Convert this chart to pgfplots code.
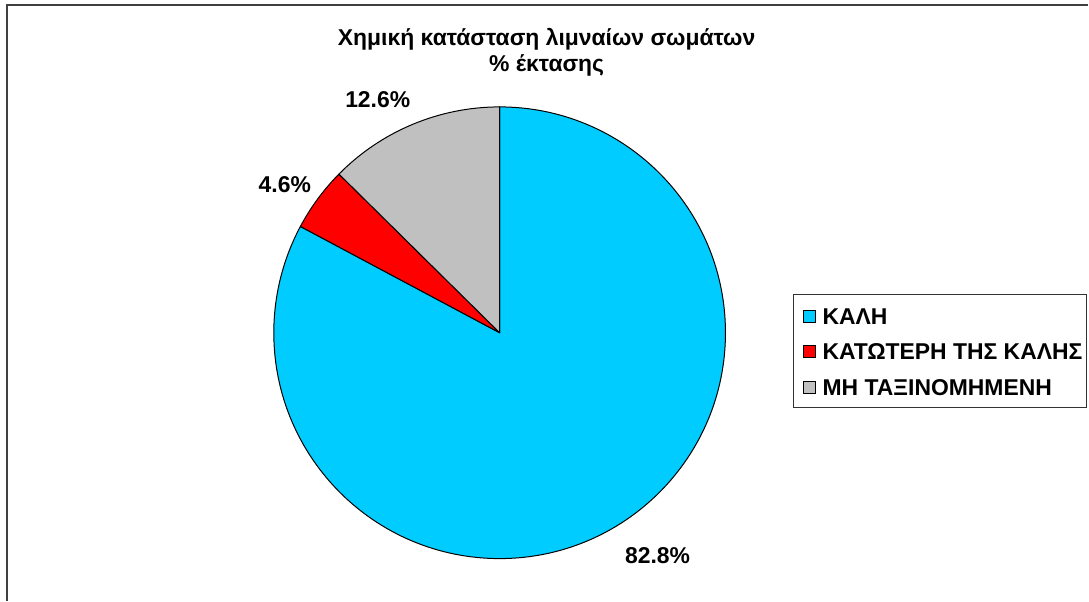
\documentclass[border=0pt]{standalone}
\usepackage{pgfplots}
\usepackage{pgfplotstable}
\pgfplotsset{compat=1.18}
\usepackage{fontspec}
\setmainfont{Liberation Sans}
\definecolor{cblue}{HTML}{00CCFF}
\definecolor{cred}{HTML}{FF0000}
\definecolor{cgrey}{HTML}{C0C0C0}
\pgfplotstableread{
value color
82.8 cblue
4.6 cred
12.6 cgrey
}\piedata
\begin{document}
\begin{tikzpicture}
\begin{axis}[scale only axis, x=1bp, y=1bp, xmin=0, xmax=1089, ymin=0, ymax=601,
  hide axis, clip=false]
\path (axis cs:0,0) rectangle (axis cs:1089,601);
\draw[black!75, line width=1.6bp] (axis cs:7,0) -- (axis cs:7,596) -- (axis cs:1089,596);
% pie slices from the data
\def\acc{90}
\pgfplotsforeachungrouped \i in {0,1,2} {%
  \pgfplotstablegetelem{\i}{value}\of{\piedata}%
  \pgfmathsetmacro{\val}{\pgfplotsretval}%
  \pgfplotstablegetelem{\i}{color}\of{\piedata}%
  \edef\col{\pgfplotsretval}%
  \pgfmathsetmacro{\endang}{\acc-3.6*\val}%
  \edef\temp{\noexpand\filldraw[fill=\col, draw=black, line width=1bp, line join=round] (axis cs:500,268) -- ++(\acc:226bp) arc[start angle=\acc, end angle=\endang, radius=226bp] -- cycle;}%
  \temp
  \global\let\acc\endang
}
% title
\node[anchor=base, font=\fontsize{23}{27}\selectfont\bfseries] at (axis cs:547,555) {Χημική κατάσταση λιμναίων σωμάτων};
\node[anchor=base, font=\fontsize{23}{27}\selectfont\bfseries] at (axis cs:547,529) {\% έκτασης};
% data labels
\node[anchor=base, font=\fontsize{23}{27}\selectfont\bfseries] at (axis cs:658,37) {82.8\%};
\node[anchor=base, font=\fontsize{23}{27}\selectfont\bfseries] at (axis cs:285,408) {4.6\%};
\node[anchor=base, font=\fontsize{23}{27}\selectfont\bfseries] at (axis cs:378,493) {12.6\%};
% legend
\draw[black!80, line width=1.2bp] (axis cs:794,193) rectangle (axis cs:1087,306);
\filldraw[fill=cblue, draw=black, line width=1bp] (axis cs:804,278) rectangle (axis cs:816,290);
\filldraw[fill=cred, draw=black, line width=1bp] (axis cs:804,243) rectangle (axis cs:816,255);
\filldraw[fill=cgrey, draw=black, line width=1bp] (axis cs:804,207) rectangle (axis cs:816,219);
\node[anchor=base west, inner sep=0pt, font=\fontsize{23}{27}\selectfont\bfseries] at (axis cs:823,276) {ΚΑΛΗ};
\node[anchor=base west, inner sep=0pt, font=\fontsize{23}{27}\selectfont\bfseries] at (axis cs:823,241) {ΚΑΤΩΤΕΡΗ ΤΗΣ ΚΑΛΗΣ};
\node[anchor=base west, inner sep=0pt, font=\fontsize{23}{27}\selectfont\bfseries] at (axis cs:823,205) {ΜΗ ΤΑΞΙΝΟΜΗΜΕΝΗ};
\end{axis}
\end{tikzpicture}
\end{document}
